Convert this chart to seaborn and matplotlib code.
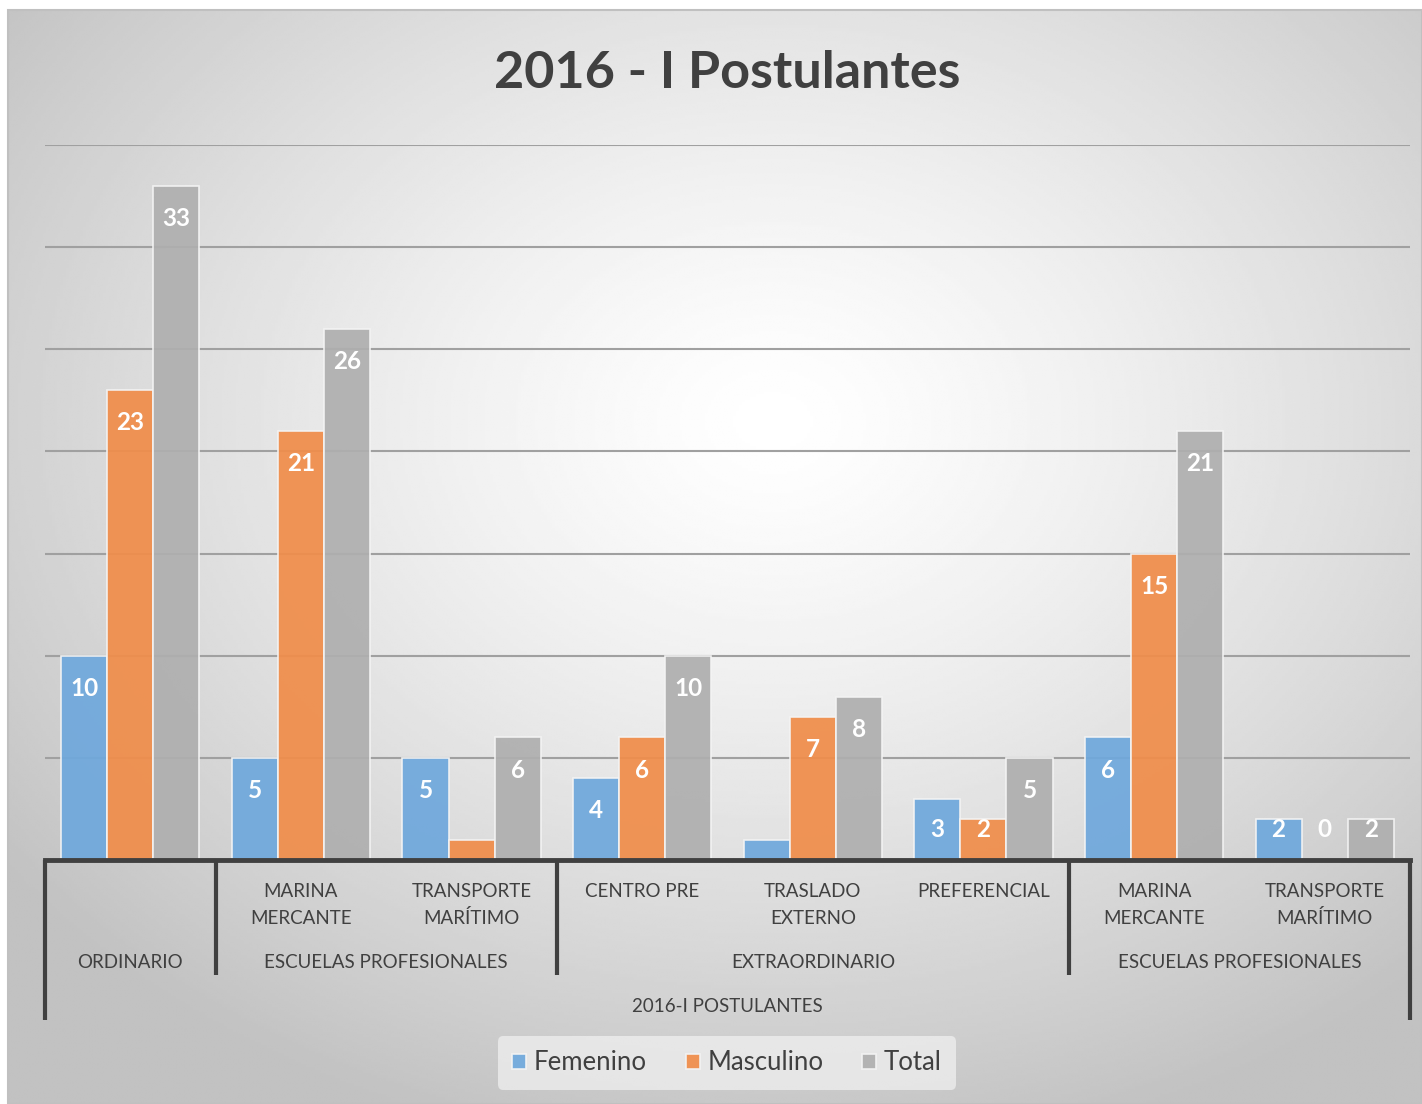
import numpy as np
import pandas as pd
import matplotlib
matplotlib.use("Agg")
import matplotlib.pyplot as plt
import matplotlib.transforms as mtransforms
import seaborn as sns

# chart data
nivel1 = ["", "MARINA\nMERCANTE", "TRANSPORTE\nMARÍTIMO", "CENTRO PRE",
          "TRASLADO\nEXTERNO", "PREFERENCIAL", "MARINA\nMERCANTE", "TRANSPORTE\nMARÍTIMO"]
nivel2 = ["ORDINARIO", "ESCUELAS PROFESIONALES", "EXTRAORDINARIO", "ESCUELAS PROFESIONALES"]
nivel2_span = [(0, 0), (1, 2), (3, 5), (6, 7)]
nivel3 = "2016-I POSTULANTES"
femenino = [10, 5, 5, 4, 1, 3, 6, 2]
masculino = [23, 21, 1, 6, 7, 2, 15, 0]
total = [33, 26, 6, 10, 8, 5, 21, 2]
series = ["Femenino", "Masculino", "Total"]
colores = ["#6FA8DC", "#F08D4A", "#AFAFAF"]

keys = ["c%d" % i for i in range(len(total))]
df = pd.DataFrame({
    "cat": keys * 3,
    "serie": np.repeat(series, len(keys)),
    "valor": femenino + masculino + total,
})

sns.set_style("white")
plt.rcParams["font.family"] = ["Lato", "DejaVu Sans"]

W, H = 1422, 1104
fig = plt.figure(figsize=(W / 100, H / 100), dpi=100)
fig.patch.set_facecolor("white")

# radial gradient background (Excel style)
bg = fig.add_axes([8 / W, 0, 1 - 8 / W, 1 - 10 / H])
yy, xx = np.mgrid[0:400, 0:500]
cx, cy = 270, 150
r = np.sqrt(((xx - cx) / 500.0) ** 2 + ((yy - cy) / 400.0) ** 2)
r = np.clip(r / 0.68, 0, 1)
img = 1 - 0.24 * r ** 1.3
bg.imshow(img, cmap="gray", vmin=0, vmax=1, aspect="auto", interpolation="bilinear")
bg.set_axis_off()
fig.add_artist(plt.Rectangle((8 / W, 0), 1 - 8 / W, 1 - 10 / H, transform=fig.transFigure,
                             fill=False, edgecolor="#c0c0c0", lw=1.5))

ax = fig.add_axes([45 / W, 1 - 860 / H, (1410 - 45) / W, (860 - 145) / H])
ax.patch.set_alpha(0)

sns.barplot(data=df, x="cat", y="valor", hue="serie", order=keys, hue_order=series,
            palette=colores, width=0.81, alpha=0.93, edgecolor="#f4f4f4", linewidth=1.2,
            saturation=1, ax=ax, zorder=3)

ax.set_ylim(0, 35)
ax.set_xlim(-0.5, len(keys) - 0.5)
ax.set_yticks(np.arange(0, 36, 5))
ax.set_yticklabels([])
ax.set_xticks([])
ax.set_xlabel("")
ax.set_ylabel("")
ax.yaxis.grid(True, color="#a0a0a0", lw=1.5, zorder=0)
ax.set_axisbelow(True)
for s in ["top", "right", "left"]:
    ax.spines[s].set_visible(False)
ax.spines["bottom"].set_color("#404040")
ax.spines["bottom"].set_linewidth(3.5)
ax.spines["bottom"].set_zorder(5)

# data labels (inside end)
for cont in ax.containers:
    for bar in cont:
        v = bar.get_height()
        if v == 1:
            continue
        xc = bar.get_x() + bar.get_width() / 2
        ax.text(xc, max(v - 1.6, 1.47), "%d" % v, ha="center", va="center",
                color="white", fontsize=17.5, fontweight="bold", zorder=6)

# multi-level category axis
tr = mtransforms.blended_transform_factory(ax.transData, fig.transFigure)
fy = lambda px: 1 - px / H
lab_kw = dict(transform=tr, ha="center", va="baseline", fontsize=13.5, color="#404040")
for i, lab in enumerate(nivel1):
    for k, linea in enumerate(lab.split("\n")):
        if linea:
            ax.text(i, fy(897 + 27 * k), linea, **lab_kw)
for lab, (a, b) in zip(nivel2, nivel2_span):
    ax.text((a + b) / 2, fy(968), lab, **lab_kw)
ax.text((len(keys) - 1) / 2, fy(1012), nivel3, **lab_kw)

for a, b in nivel2_span[:-1]:
    ax.plot([b + 0.5, b + 0.5], [fy(860), fy(975)], transform=tr, color="#404040",
            lw=3, clip_on=False, solid_capstyle="butt")
for xe in [-0.5, len(keys) - 0.5]:
    ax.plot([xe, xe], [fy(860), fy(1020)], transform=tr, color="#404040",
            lw=3, clip_on=False, solid_capstyle="butt")

# title
fig.text(727 / W, fy(73), "2016 - I Postulantes", ha="center", va="center",
         fontsize=37.5, fontweight="bold", color="#404040")

# legend
handles, labels = ax.get_legend_handles_labels()
ax.legend(handles, labels, loc="center", bbox_to_anchor=(727 / W, fy(1063)),
          bbox_transform=fig.transFigure, ncol=3, fontsize=18.5, frameon=True,
          facecolor="#f2f2f2", edgecolor="none", framealpha=0.7, handlelength=0.55,
          handleheight=0.55, handletextpad=0.3, columnspacing=1.5, borderpad=0.55,
          labelcolor="#404040")

fig.savefig("out.png", dpi=100)
